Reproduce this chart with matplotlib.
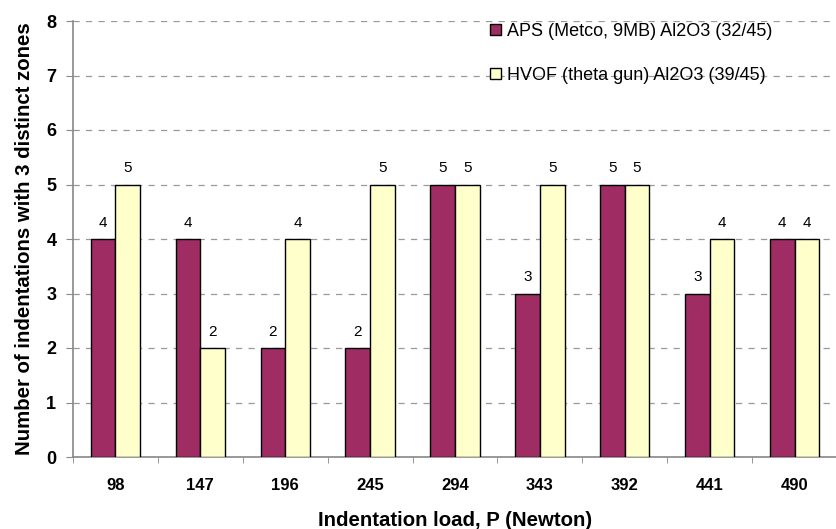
import matplotlib.pyplot as plt
from matplotlib.patches import Patch

loads = ["98", "147", "196", "245", "294", "343", "392", "441", "490"]
aps = [4, 4, 2, 2, 5, 3, 5, 3, 4]
hvof = [5, 2, 4, 5, 5, 5, 5, 4, 4]
aps_label = "APS (Metco, 9MB) Al2O3 (32/45)"
hvof_label = "HVOF (theta gun) Al2O3 (39/45)"

plt.rcParams['font.family'] = ['Liberation Sans', 'DejaVu Sans']

W, H = 837, 529
fig = plt.figure(figsize=(W / 100, H / 100), dpi=100)
ax = fig.add_axes([73 / W, (H - 457) / H, (W - 73) / W, (457 - 21) / H])

c_aps = "#A02C64"
c_hvof = "#FFFFCC"
bw = 0.29
x = list(range(len(loads)))
xa = [i - bw / 2 for i in x]
xh = [i + bw / 2 for i in x]
ax.bar(xa, aps, width=bw, color=c_aps, edgecolor="black", linewidth=1.0, zorder=3)
ax.bar(xh, hvof, width=bw, color=c_hvof, edgecolor="black", linewidth=1.0, zorder=3)

for xi, v in zip(xa, aps):
    ax.text(xi, v + 0.17, str(v), ha="center", va="bottom", fontsize=11)
for xi, v in zip(xh, hvof):
    ax.text(xi, v + 0.17, str(v), ha="center", va="bottom", fontsize=11)

step = 85.7
ax.set_xlim(-0.5, -0.5 + (W - 73) / step)
ax.set_ylim(0, 8)
ax.set_yticks(range(0, 9))
ax.set_xticks(x)
ax.set_xticklabels(loads)
ax.set_xticks([i + 0.5 for i in range(-1, len(loads))], minor=True)
ax.tick_params(axis="x", which="major", length=0, pad=15)
ax.tick_params(axis="x", which="minor", length=4, color="#888888", direction="out")
ax.tick_params(axis="y", length=5, color="#888888", direction="out", pad=7)
for lab in ax.get_xticklabels():
    lab.set_fontweight("bold")
    lab.set_fontsize(12)
for lab in ax.get_yticklabels():
    lab.set_fontweight("bold")
    lab.set_fontsize(13)

ax.yaxis.grid(True, linestyle=(0, (5, 5)), color="#999999", linewidth=0.9, zorder=0)
ax.set_axisbelow(True)
for s in ["top", "right"]:
    ax.spines[s].set_visible(False)
for s in ["left", "bottom"]:
    ax.spines[s].set_color("#888888")
    ax.spines[s].set_linewidth(1.2)

ax.set_xlabel("Indentation load, P (Newton)", fontsize=14.7, fontweight="bold", labelpad=13)
ax.set_ylabel("Number of indentations with 3 distinct zones", fontsize=14.7, fontweight="bold", labelpad=9)

handles = [Patch(facecolor=c_aps, edgecolor="black"), Patch(facecolor=c_hvof, edgecolor="black")]
leg = fig.legend(handles, [aps_label, hvof_label], loc="upper left",
                 bbox_to_anchor=(490 / W, 1 - 23 / H), bbox_transform=fig.transFigure,
                 frameon=False, fontsize=13, borderpad=0, borderaxespad=0,
                 handlelength=0.6, handleheight=0.6, handletextpad=0.35,
                 labelspacing=1.5)

fig.savefig("out.png", dpi=100)
